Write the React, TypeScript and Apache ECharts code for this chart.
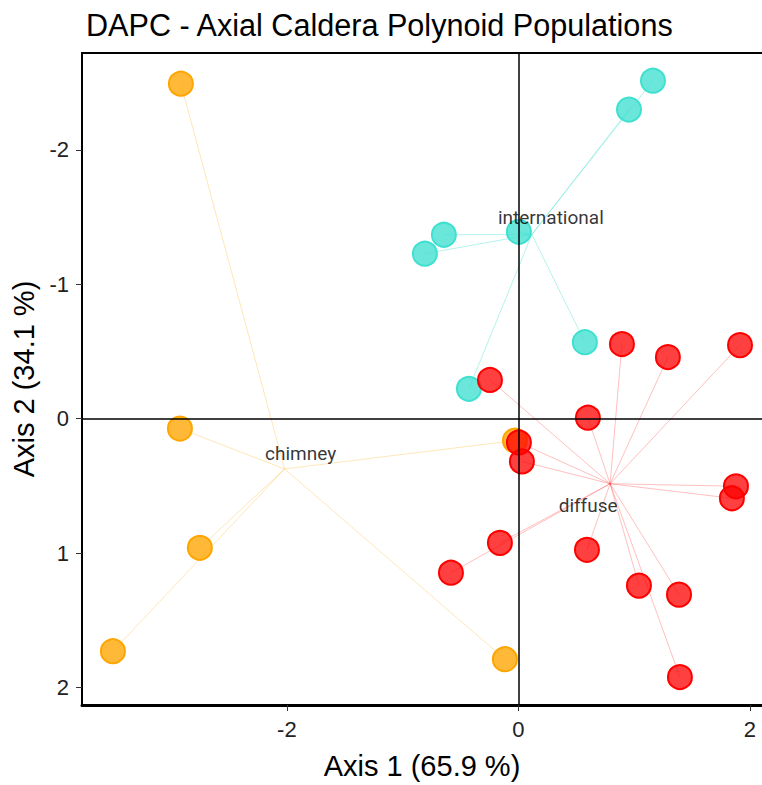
import React, { useEffect, useRef } from "react";
import * as echarts from "echarts";

const titleText = "DAPC - Axial Caldera Polynoid Populations";
const xName = "Axis 1 (65.9 %)";
const yName = "Axis 2 (34.1 %)";
const groupNames = ["chimney", "international", "diffuse"];

const chimneyX = [-2.916, -2.924, -2.752, -3.503, -0.117, -0.03];
const chimneyY = [-2.492, 0.074, 0.961, 1.73, 1.789, 0.163];

const internationalX = [1.162, 0.955, 0.004, -0.644, -0.808, 0.574, -0.428];
const internationalY = [-2.514, -2.299, -1.39, -1.368, -1.227, -0.569, -0.222];

const diffuseX = [-0.246, 0.894, 1.291, 1.914, 0.6, 0.004, 0.03, 1.879, 1.844, -0.16, -0.583, 0.592, 1.041, 1.387, 1.395];
const diffuseY = [-0.288, -0.555, -0.458, -0.547, -0.007, 0.177, 0.318, 0.503, 0.592, 0.924, 1.146, 0.976, 1.242, 1.309, 1.922];

const centroidX = [-2.02, 0.116, 0.792];
const centroidY = [0.374, -1.37, 0.484];

const xTicks = [-2, 0, 2];
const yTicks = [-2, -1, 0, 1, 2];

const fills = ["rgba(255,165,0,0.78)", "rgba(64,224,208,0.78)", "rgba(255,0,0,0.75)"];
const borders = ["#FFA500", "#40E0D0", "#FF0000"];
const linkColors = ["rgba(255,165,0,0.28)", "rgba(64,224,208,0.4)", "rgba(255,0,0,0.25)"];
const labelOffsets = [[16, -15], [19, -17], [-22, 22]];

export default function App() {
  const ref = useRef<HTMLDivElement>(null);
  useEffect(() => {
    if (!ref.current) return;
    const chart = echarts.init(ref.current, null, { renderer: "svg" });
    const xs = [chimneyX, internationalX, diffuseX];
    const ys = [chimneyY, internationalY, diffuseY];
    const series: any[] = [];
    series.push({
      type: "scatter",
      data: [],
      z: 1,
      silent: true,
      markLine: {
        silent: true,
        symbol: "none",
        label: { show: false },
        lineStyle: { color: "#000", width: 1.5, type: "solid" },
        data: [{ xAxis: 0 }, { yAxis: 0 }],
      },
    });
    xs.forEach((gx, g) => {
      series.push({
        type: "lines",
        coordinateSystem: "cartesian2d",
        z: 2,
        silent: true,
        lineStyle: { color: linkColors[g], width: 1, opacity: 1 },
        data: gx.map((x, i) => ({ coords: [[centroidX[g], centroidY[g]], [x, ys[g][i]]] })),
      });
    });
    xs.forEach((gx, g) => {
      series.push({
        type: "scatter",
        z: 3,
        symbolSize: 24,
        itemStyle: { color: fills[g], borderColor: borders[g], borderWidth: 2, opacity: 1 },
        data: gx.map((x, i) => [x, ys[g][i]]),
      });
    });
    series.push({
      type: "scatter",
      z: 4,
      symbolSize: 0,
      silent: true,
      data: groupNames.map((n, g) => ({
        value: [centroidX[g], centroidY[g]],
        name: n,
        label: { offset: labelOffsets[g] },
      })),
      label: {
        show: true,
        position: "inside",
        formatter: (p: any) => p.name,
        fontFamily: "Roboto, 'Liberation Sans', sans-serif",
        fontSize: 19,
        color: "#000",
      },
    });

    chart.setOption({
      animation: false,
      title: {
        text: titleText,
        left: 81,
        top: 4,
        textStyle: { fontFamily: "'Liberation Sans', Arial, sans-serif", fontSize: 30.6, fontWeight: "normal", color: "#000" },
      },
      grid: { left: 82, top: 53, right: 0, bottom: 76, containLabel: false },
      xAxis: [
        {
          type: "value",
          min: -3.77,
          max: 2.104,
          position: "bottom",
          axisLine: { show: true, onZero: false, lineStyle: { color: "#000", width: 3 } },
          axisTick: { show: true, customValues: xTicks, length: 6, lineStyle: { color: "#333", width: 1 } },
          axisLabel: {
            customValues: xTicks,
            fontFamily: "'Liberation Sans', Arial, sans-serif",
            fontSize: 22,
            color: "#222",
            margin: 13,
          },
          splitLine: { show: false },
          name: xName,
          nameLocation: "middle",
          nameGap: 46,
          nameTextStyle: { fontFamily: "'Liberation Sans', Arial, sans-serif", fontSize: 29, color: "#000" },
        },
        {
          type: "value",
          min: -3.77,
          max: 2.104,
          position: "top",
          axisLine: { show: true, onZero: false, lineStyle: { color: "#000", width: 2 } },
          axisTick: { show: false },
          axisLabel: { show: false },
          splitLine: { show: false },
        },
      ],
      yAxis: {
        type: "value",
        inverse: true,
        min: -2.72,
        max: 2.13,
        axisLine: { show: true, onZero: false, lineStyle: { color: "#000", width: 2 } },
        axisTick: { show: true, customValues: yTicks, length: 6, lineStyle: { color: "#333", width: 1 } },
        axisLabel: {
          customValues: yTicks,
          fontFamily: "'Liberation Sans', Arial, sans-serif",
          fontSize: 22,
          color: "#222",
          margin: 13,
        },
        splitLine: { show: false },
        name: yName,
        nameLocation: "middle",
        nameGap: 39,
        nameRotate: 90,
        nameTextStyle: { fontFamily: "'Liberation Sans', Arial, sans-serif", fontSize: 29, color: "#000" },
      },
      series,
    });
    return () => chart.dispose();
  }, []);
  return <div ref={ref} style={{ position: "absolute", left: 0, top: 0, width: 762, height: 785 }} />;
}
